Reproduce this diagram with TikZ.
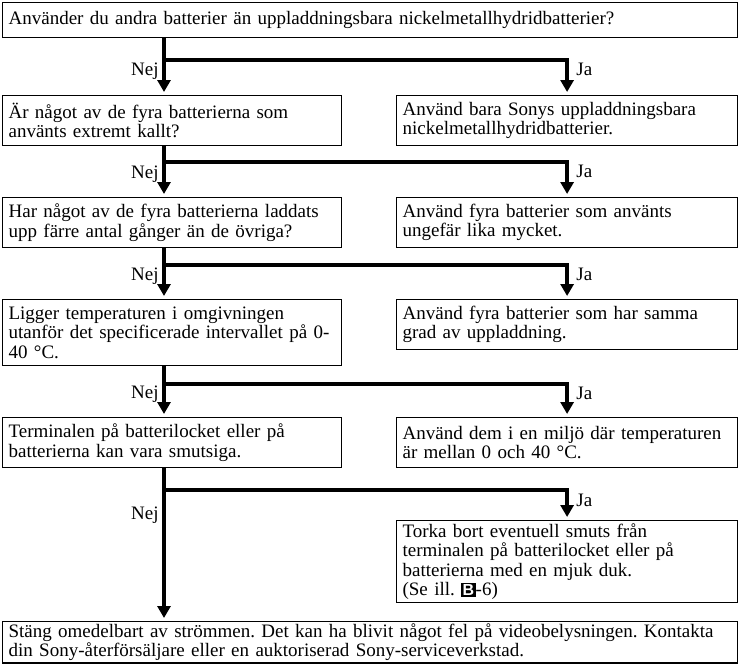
\documentclass[tikz,border=0pt]{standalone}
\usepackage{fontspec}
\setmainfont{Liberation Serif}
\newfontfamily\iconfont{Liberation Sans}
\usetikzlibrary{arrows.meta,positioning,calc}
\frenchspacing

\newcommand{\illB}{{\setlength{\fboxsep}{1.5pt}\colorbox{black}{\textcolor{white}{\iconfont\bfseries\fontsize{16}{16}\selectfont B}}}}

\begin{document}
\begin{tikzpicture}[
    x=1pt, y=-1pt,
    font=\fontsize{19}{19.5}\selectfont,
    box/.style={rectangle, draw, line width=1.2pt, anchor=north west, align=left, inner xsep=6pt, inner ysep=2pt},
    qbox/.style={box, text width=327pt},
    abox/.style={box, text width=329pt},
    widebox/.style={box, text width=723pt},
    arrow/.style={-{Triangle[width=13pt,length=12pt]}, line width=4pt, shorten >=3pt}
]

\useasboundingbox (0,0) rectangle (739,664);

% Question
\node[widebox, minimum height=35pt] (ask) at (2,2) {Använder du andra batterier än uppladdningsbara nickelmetallhydridbatterier?};

% Flow
\node[qbox, minimum height=50pt] (q1) at (2,95) {Är något av de fyra batterierna som\\använts extremt kallt?};
\node[abox, minimum height=50pt] (a1) at (396,95) {Använd bara Sonys uppladdningsbara\\nickelmetallhydridbatterier.};
\node[qbox, minimum height=50pt] (q2) at (2,197) {Har något av de fyra batterierna laddats\\upp färre antal gånger än de övriga?};
\node[abox, minimum height=50pt] (a2) at (396,197) {Använd fyra batterier som använts\\ungefär lika mycket.};
\node[qbox, minimum height=66pt] (q3) at (2,299) {Ligger temperaturen i omgivningen\\utanför det specificerade intervallet på 0-\\40 °C.};
\node[abox, minimum height=50pt] (a3) at (396,299) {Använd fyra batterier som har samma\\grad av uppladdning.};
\node[qbox, minimum height=50pt] (q4) at (2,417) {Terminalen på batterilocket eller på\\batterierna kan vara smutsiga.};
\node[abox, minimum height=50pt] (a4) at (396,417) {Använd dem i en miljö där temperaturen\\är mellan 0 och 40 °C.};
\node[abox, minimum height=82pt] (a5) at (396,520) {Torka bort eventuell smuts från\\terminalen på batterilocket eller på\\batterierna med en mjuk duk.\\(Se ill. \illB-6)};
\node[widebox, minimum height=40pt] (stop) at (2,621) {Stäng omedelbart av strömmen. Det kan ha blivit något fel på videobelysningen. Kontakta\\din Sony-återförsäljare eller en auktoriserad Sony-serviceverkstad.};

% Branch points
\coordinate (b1) at (164,60);
\coordinate (b2) at (164,162);
\coordinate (b3) at (164,265);
\coordinate (b4) at (164,384);
\coordinate (b5) at (164,490);

% Arrows
\draw[arrow] (ask.south -| b1) -- node[left, pos=0.58] {Nej} (q1.north -| b1);
\draw[arrow] (b1) -| node[right, pos=0.64, xshift=4pt] {Ja} (a1);
\draw[arrow] (q1.south -| b2) -- node[left, pos=0.55] {Nej} (q2.north -| b2);
\draw[arrow] (b2) -| node[right, pos=0.64, xshift=4pt] {Ja} (a2);
\draw[arrow] (q2.south -| b3) -- node[left, pos=0.55] {Nej} (q3.north -| b3);
\draw[arrow] (b3) -| node[right, pos=0.64, xshift=4pt] {Ja} (a3);
\draw[arrow] (q3.south -| b4) -- node[left, pos=0.55] {Nej} (q4.north -| b4);
\draw[arrow] (b4) -| node[right, pos=0.64, xshift=4pt] {Ja} (a4);
\draw[arrow] (q4.south -| b5) -- node[left, pos=0.31] {Nej} (stop.north -| b5);
\draw[arrow] (b5) -| node[right, pos=0.68, xshift=4pt] {Ja} (a5);

\end{tikzpicture}
\end{document}
